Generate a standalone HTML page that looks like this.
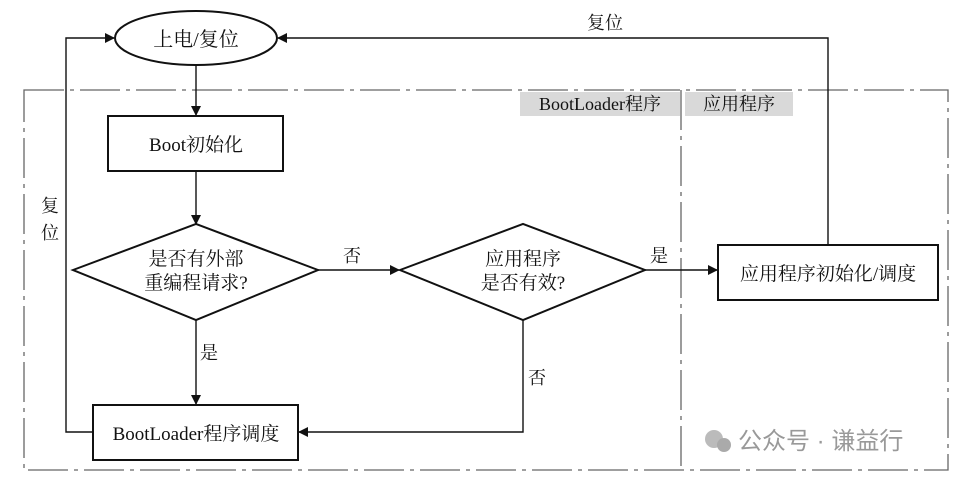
<!DOCTYPE html>
<html><head><meta charset="utf-8"><style>
body{margin:0;background:#fff}
svg text{font-family:"Liberation Serif","Noto Serif CJK SC",serif;fill:#111}
</style></head><body>
<svg width="960" height="480" viewBox="0 0 960 480" xmlns="http://www.w3.org/2000/svg">
<defs><marker id="a" markerWidth="10" markerHeight="10" refX="9" refY="5" orient="auto" markerUnits="userSpaceOnUse"><path d="M0,0 L10,5 L0,10 z" fill="#111"/></marker></defs>
<g fill="none" stroke="#666" stroke-width="1.3" stroke-dasharray="40,6,4,6">
<rect x="24" y="90" width="924" height="380"/>
<line x1="681" y1="90" x2="681" y2="470"/>
</g>
<rect x="520" y="92" width="160" height="24" fill="#d9d9d9"/>
<rect x="685" y="92" width="108" height="24" fill="#d9d9d9"/>
<text x="600" y="110" font-size="18" text-anchor="middle">BootLoader程序</text>
<text x="739" y="110" font-size="18" text-anchor="middle">应用程序</text>
<g stroke="#111" stroke-width="1.4" fill="none">
<ellipse cx="196" cy="38" rx="81" ry="27" stroke-width="2"/>
<line x1="196" y1="65" x2="196" y2="115" marker-end="url(#a)"/>
<rect x="108" y="116" width="175" height="55" stroke-width="2"/>
<line x1="196" y1="171" x2="196" y2="224" marker-end="url(#a)"/>
<polygon points="73,270 196,224 318,270 196,320" stroke-width="2"/>
<polygon points="400,270 523,224 645,270 523,320" stroke-width="2"/>
<line x1="318" y1="270" x2="399" y2="270" marker-end="url(#a)"/>
<line x1="645" y1="270" x2="717" y2="270" marker-end="url(#a)"/>
<rect x="718" y="245" width="220" height="55" stroke-width="2"/>
<line x1="196" y1="320" x2="196" y2="404" marker-end="url(#a)"/>
<rect x="93" y="405" width="205" height="55" stroke-width="2"/>
<polyline points="523,320 523,432 299,432" marker-end="url(#a)"/>
<polyline points="93,432 66,432 66,38 114,38" marker-end="url(#a)"/>
<polyline points="828,245 828,38 278,38" marker-end="url(#a)"/>
</g>
<text x="196" y="46" font-size="20" text-anchor="middle">上电/复位</text>
<text x="196" y="151" font-size="19" text-anchor="middle">Boot初始化</text>
<text x="196" y="265" font-size="19" text-anchor="middle">是否有外部</text>
<text x="196" y="289" font-size="19" text-anchor="middle">重编程请求?</text>
<text x="523" y="265" font-size="19" text-anchor="middle">应用程序</text>
<text x="523" y="289" font-size="19" text-anchor="middle">是否有效?</text>
<text x="828" y="280" font-size="19" text-anchor="middle">应用程序初始化/调度</text>
<text x="196" y="440" font-size="19" text-anchor="middle">BootLoader程序调度</text>
<text x="352" y="262" font-size="18" text-anchor="middle">否</text>
<text x="659" y="262" font-size="18" text-anchor="middle">是</text>
<text x="209" y="359" font-size="18" text-anchor="middle">是</text>
<text x="537" y="384" font-size="18" text-anchor="middle">否</text>
<text x="605" y="29" font-size="18" text-anchor="middle">复位</text>
<text x="50" y="212" font-size="18" text-anchor="middle">复</text>
<text x="50" y="239" font-size="18" text-anchor="middle">位</text>
<circle cx="714" cy="439" r="9" fill="#bbb"/><circle cx="724" cy="445" r="7" fill="#aaa"/>
<text x="738" y="449" font-size="24" style="fill:#999;font-family:'Liberation Sans','Noto Sans CJK SC',sans-serif">公众号 · 谦益行</text>
</svg>
</body></html>
